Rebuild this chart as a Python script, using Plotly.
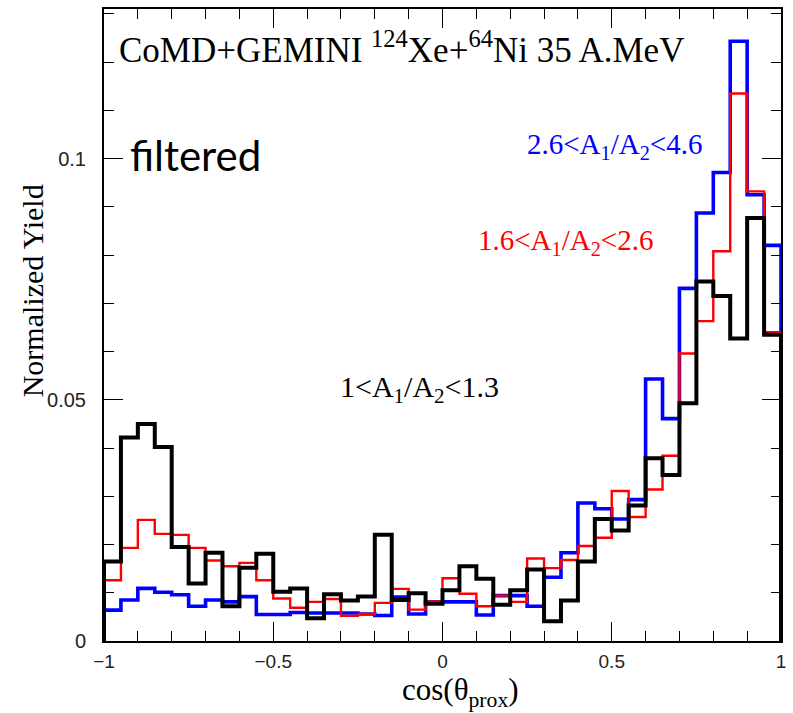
import plotly.graph_objects as go

# cos(theta_prox) binning: 40 bins of width 0.05 from -1 to 1
bin_edges = [round(-1 + 0.05 * i, 2) for i in range(41)]

# normalized yields per bin for the three mass-asymmetry selections
yield_blue = [0.0064, 0.0085, 0.0109, 0.0101, 0.0096, 0.0072, 0.0085, 0.0081, 0.0092, 0.0055,
              0.0055, 0.0059, 0.0058, 0.0058, 0.0058, 0.0056, 0.0053, 0.0091, 0.0056, 0.0081,
              0.0081, 0.0081, 0.0054, 0.0094, 0.0094, 0.0072, 0.0132, 0.0183, 0.0286, 0.0274,
              0.0253, 0.0293, 0.0543, 0.0461, 0.0731, 0.0887, 0.0971, 0.1243, 0.0925, 0.0820]
yield_red = [0.0126, 0.0193, 0.0251, 0.0222, 0.0220, 0.0193, 0.0167, 0.0155, 0.0162, 0.0126,
             0.0088, 0.0069, 0.0081, 0.0087, 0.0052, 0.0056, 0.0079, 0.0108, 0.0065, 0.0082,
             0.0130, 0.0098, 0.0072, 0.0094, 0.0081, 0.0171, 0.0151, 0.0168, 0.0197, 0.0214,
             0.0311, 0.0257, 0.0314, 0.0384, 0.0596, 0.0663, 0.0808, 0.1135, 0.0932, 0.0640]
yield_black = [0.0165, 0.0422, 0.0450, 0.0402, 0.0195, 0.0119, 0.0183, 0.0072, 0.0152, 0.0181,
               0.0102, 0.0109, 0.0047, 0.0097, 0.0084, 0.0092, 0.0220, 0.0085, 0.0099, 0.0077,
               0.0105, 0.0155, 0.0129, 0.0075, 0.0105, 0.0148, 0.0041, 0.0084, 0.0165, 0.0253,
               0.0229, 0.0281, 0.0379, 0.0344, 0.0493, 0.0745, 0.0715, 0.0627, 0.0877, 0.0635]

series = [
    ("2.6<A<sub>1</sub>/A<sub>2</sub><4.6", yield_blue, "#0000ff", 3.6),
    ("1.6<A<sub>1</sub>/A<sub>2</sub><2.6", yield_red, "#ff0000", 2.4),
    ("1<A<sub>1</sub>/A<sub>2</sub><1.3", yield_black, "#000000", 4.0),
]

W, H = 793, 713
L, R, T, B = 104, 10, 7, 72
Y_MAX = 0.131


def paper(xpix, ypix):
    """Convert page pixel position to paper coordinates."""
    return (xpix - L) / (W - L - R), (H - B - ypix) / (H - B - T)


def step_outline(edges, values):
    # ROOT-style histogram outline: rises from zero at the first edge, drops at the last
    xs = [edges[0]] + edges[:-1] + [edges[-1], edges[-1]]
    ys = [0.0] + list(values) + [values[-1], 0.0]
    return xs, ys


fig = go.Figure()
for name, vals, color, width in series:
    xs, ys = step_outline(bin_edges, vals)
    fig.add_trace(go.Scatter(x=xs, y=ys, mode="lines", name=name,
                             line=dict(color=color, width=width, shape="hv"),
                             showlegend=False, hoverinfo="skip"))

serif = "Liberation Serif, Times New Roman, serif"
sans = "Liberation Sans, Arial, sans-serif"

axis_common = dict(
    showline=True, linecolor="black", linewidth=2, mirror="ticks",
    ticks="inside", tickcolor="black", tickwidth=1.2,
    showgrid=False, zeroline=False,
)

fig.update_xaxes(range=[-1, 1], tickmode="linear", tick0=-1, dtick=0.5, ticklen=19,
                 ticklabelstandoff=2,
                 tickfont=dict(family=sans, size=19, color="#222222"),
                 minor=dict(ticks="inside", dtick=0.1, tick0=-1, ticklen=10,
                            tickcolor="black", tickwidth=1.2, showgrid=False),
                 **axis_common)
fig.update_yaxes(range=[0, Y_MAX], tickmode="linear", tick0=0, dtick=0.05, ticklen=19,
                 ticklabelstandoff=12,
                 tickfont=dict(family=sans, size=20, color="#222222"),
                 minor=dict(ticks="inside", dtick=0.01, tick0=0, ticklen=10,
                            tickcolor="black", tickwidth=1.2, showgrid=False),
                 **axis_common)

annotations = []


def add_text(text, xpix, ypix, size, color="black", family=serif, xanchor="left",
             angle=0, yanchor="middle"):
    xp, yp = paper(xpix, ypix)
    annotations.append(dict(text=text, x=xp, y=yp, xref="paper", yref="paper",
                            xanchor=xanchor, yanchor=yanchor, showarrow=False,
                            textangle=angle, borderpad=0,
                            font=dict(family=family, size=size, color=color)))


add_text("CoMD+GEMINI <sup>124</sup>Xe+<sup>64</sup>Ni 35 A.MeV", 118, 46, 35)
add_text("filtered", 129, 153, 42, family="Lato, Carlito, sans-serif")
add_text(series[0][0], 527, 144, 29, color=series[0][2])
add_text(series[1][0], 478, 241, 29, color=series[1][2])
add_text(series[2][0], 340, 388, 30, color=series[2][2])
add_text("cos(θ<sub>prox</sub>)", 462, 713, 31, xanchor="center", yanchor="bottom")
add_text("Normalized Yield", 32, 290, 30, xanchor="center", angle=-90)

fig.update_layout(
    width=W, height=H,
    margin=dict(l=L, r=R, t=T, b=B, pad=0),
    paper_bgcolor="white", plot_bgcolor="white",
    annotations=annotations,
)

fig.write_html("out.html")
